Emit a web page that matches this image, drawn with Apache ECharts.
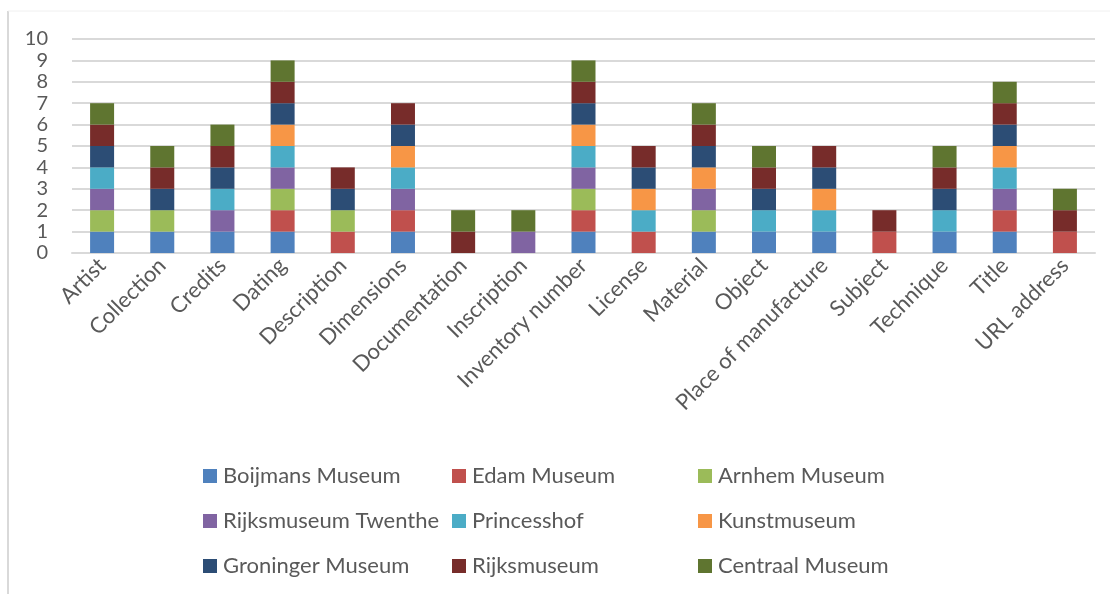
<!DOCTYPE html>
<html>
<head>
<meta charset="utf-8">
<script src="https://cdn.jsdelivr.net/npm/echarts@6/dist/echarts.min.js"></script>
<style>
  html, body { margin: 0; padding: 0; background: #fff; }
  #chart { width: 1110px; height: 594px; }
</style>
</head>
<body>
<div id="chart"></div>
<script>
// Metadata fields published by each museum (1 = field present)
const fields = ['Artist', 'Collection', 'Credits', 'Dating', 'Description', 'Dimensions',
  'Documentation', 'Inscription', 'Inventory number', 'License', 'Material', 'Object',
  'Place of manufacture', 'Subject', 'Technique', 'Title', 'URL address'];

const yTicks = [0, 1, 2, 3, 4, 5, 6, 7, 8, 9, 10];

const museums = ['Boijmans Museum', 'Edam Museum', 'Arnhem Museum',
  'Rijksmuseum Twenthe', 'Princesshof', 'Kunstmuseum',
  'Groninger Museum', 'Rijksmuseum', 'Centraal Museum'];

const boijmans    = [1, 1, 1, 1, 0, 1, 0, 0, 1, 0, 1, 1, 1, 0, 1, 1, 0];
const edam        = [0, 0, 0, 1, 1, 1, 0, 0, 1, 1, 0, 0, 0, 1, 0, 1, 1];
const arnhem      = [1, 1, 0, 1, 1, 0, 0, 0, 1, 0, 1, 0, 0, 0, 0, 0, 0];
const twenthe     = [1, 0, 1, 1, 0, 1, 0, 1, 1, 0, 1, 0, 0, 0, 0, 1, 0];
const princesshof = [1, 0, 1, 1, 0, 1, 0, 0, 1, 1, 0, 1, 1, 0, 1, 1, 0];
const kunstmuseum = [0, 0, 0, 1, 0, 1, 0, 0, 1, 1, 1, 0, 1, 0, 0, 1, 0];
const groninger   = [1, 1, 1, 1, 1, 1, 0, 0, 1, 1, 1, 1, 1, 0, 1, 1, 0];
const rijks       = [1, 1, 1, 1, 1, 1, 1, 0, 1, 1, 1, 1, 1, 1, 1, 1, 1];
const centraal    = [1, 1, 1, 1, 0, 0, 1, 1, 1, 0, 1, 1, 0, 0, 1, 1, 1];

const seriesValues = [boijmans, edam, arnhem, twenthe, princesshof, kunstmuseum, groninger, rijks, centraal];
const colors = ['#4f81bd', '#c0504d', '#9bbb59', '#8064a2', '#4bacc6', '#f79646', '#2c4d75', '#772c2a', '#5f7530'];

const font = 'Lato, "Open Sans", sans-serif';
const textColor = '#595959';

const chart = echarts.init(document.getElementById('chart'));

// One vertical legend per column keeps the three columns aligned
function legendColumn(names, left) {
  return {
    orient: 'vertical', left: left, top: 464, padding: 0,
    itemWidth: 14, itemHeight: 14, itemGap: 21,
    icon: 'rect', selectedMode: false,
    textStyle: { color: textColor, fontSize: 22, lineHeight: 24, fontFamily: font, padding: [0, 0, 0, 1] },
    data: names
  };
}

chart.setOption({
  animation: false,
  color: colors,
  grid: { left: 72, right: 15, top: 39, bottom: 341 },
  legend: [
    legendColumn([museums[0], museums[3], museums[6]], 203),
    legendColumn([museums[1], museums[4], museums[7]], 452),
    legendColumn([museums[2], museums[5], museums[8]], 698)
  ],
  xAxis: {
    type: 'category',
    data: fields,
    axisTick: { show: false },
    axisLine: { lineStyle: { color: '#d9d9d9', width: 2 } },
    axisLabel: { rotate: 45, margin: 9, interval: 0, color: textColor, fontSize: 22, fontFamily: font }
  },
  yAxis: {
    type: 'value',
    min: yTicks[0], max: yTicks[yTicks.length - 1], interval: 1,
    axisLine: { show: false },
    axisTick: { show: false },
    splitLine: { lineStyle: { color: '#d9d9d9', width: 2 } },
    axisLabel: { margin: 24, color: textColor, fontSize: 20, fontFamily: font }
  },
  series: museums.map((name, i) => ({
    name: name,
    type: 'bar',
    stack: 'fields',
    barWidth: 24,
    itemStyle: { color: colors[i] },
    data: seriesValues[i]
  })),
  graphic: [
    { type: 'line', shape: { x1: 8, y1: 11, x2: 8, y2: 594 }, style: { stroke: '#d9d9d9', lineWidth: 2 } },
    { type: 'line', shape: { x1: 8, y1: 11, x2: 1110, y2: 11 }, style: { stroke: '#f0f0f0', lineWidth: 1 } }
  ]
});
</script>
</body>
</html>
